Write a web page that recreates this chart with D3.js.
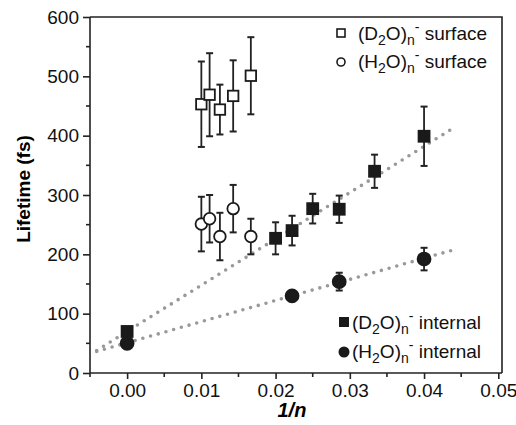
<!DOCTYPE html>
<html lang="en">
<head>
<meta charset="utf-8">
<title>lifetime vs 1/n</title>
<script src="https://d3js.org/d3.v7.min.js"></script>
<style>
  body{margin:0;background:#fff;font-family:"Liberation Sans",Arial,sans-serif;}
  .axis text{font-size:19px;fill:#111;}
  .axis path,.axis line{stroke:#222;stroke-width:1.6;}
</style>
</head>
<body>
<div id="chart"></div>
<script>
// data (x = 1/n, y = lifetime in fs, e = error bar half-length)
var d2oSurfX = [1/100, 1/90, 1/80, 1/70, 1/60]
var d2oSurfY = [453, 469, 444, 467, 501]
var d2oSurfE = [72, 70, 42, 60, 65]

var h2oSurfX = [1/100, 1/90, 1/80, 1/70, 1/60]
var h2oSurfY = [251, 260, 230, 277, 230]
var h2oSurfE = [46, 40, 40, 40, 30]

var d2oIntX = [0, 1/50, 1/45, 1/40, 1/35, 1/30, 1/25]
var d2oIntY = [70, 227, 240, 277, 276, 340, 399]
var d2oIntE = [0, 27, 25, 25, 23, 28, 50]

var h2oIntX = [0, 1/45, 1/35, 1/25]
var h2oIntY = [50, 130, 154, 192]
var h2oIntE = [0, 8, 15, 19]

// linear fits drawn as grey dotted lines: [x0, x1], intercept, slope
var fitD2O = {x: [-0.0041, 0.0437], a: 70, b: 7800}
var fitH2O = {x: [-0.0041, 0.0441], a: 51, b: 3560}

var xTicks = [0, 0.01, 0.02, 0.03, 0.04, 0.05]
var yTicks = [0, 100, 200, 300, 400, 500, 600]

var w = 516, h = 425
var m = {left: 90, top: 17, right: 14, bottom: 52}

var xScale = d3.scaleLinear().domain([-0.005, 0.0505]).range([m.left, w - m.right])
var yScale = d3.scaleLinear().domain([0, 600]).range([h - m.bottom, m.top])

var svg = d3.select("#chart").append("svg").attr("width", w).attr("height", h)

function zip(xs, ys, es){
    return xs.map(function(x, i){ return {x: x, y: ys[i], e: es[i]} })
}

// fit lines
;[fitD2O, fitH2O].forEach(function(f){
    svg.append("line")
        .attr("x1", xScale(f.x[0])).attr("y1", yScale(f.a + f.b * f.x[0]))
        .attr("x2", xScale(f.x[1])).attr("y2", yScale(f.a + f.b * f.x[1]))
        .attr("stroke", "#999").attr("stroke-width", 3.6)
        .attr("stroke-linecap", "round").attr("stroke-dasharray", "0 8")
})

// axes
var yAxis = d3.axisLeft(yScale).tickValues(yTicks).tickSize(7).tickPadding(4)
var gy = svg.append("g").attr("class", "axis").attr("transform", "translate(" + m.left + ",0)").call(yAxis)
gy.select(".domain").attr("d", "M0," + yScale(0) + "V" + yScale(600))
gy.selectAll(".minor").data(d3.range(50, 600, 100)).enter().append("line")
    .attr("class", "minor").attr("x1", -4).attr("x2", 0)
    .attr("y1", function(d){ return yScale(d) }).attr("y2", function(d){ return yScale(d) })

var xAxis = d3.axisBottom(xScale).tickValues(xTicks).tickFormat(d3.format(".2f")).tickSize(6).tickPadding(5)
var gx = svg.append("g").attr("class", "axis").attr("transform", "translate(0," + yScale(0) + ")").call(xAxis)
gx.select(".domain").attr("d", "M" + xScale(-0.005) + ",0H" + xScale(0.0505))
gx.selectAll(".minor").data(d3.range(-0.005, 0.05, 0.01)).enter().append("line")
    .attr("class", "minor").attr("y1", 0).attr("y2", 4)
    .attr("x1", function(d){ return xScale(d) }).attr("x2", function(d){ return xScale(d) })

// frame top + right
svg.append("path")
    .attr("d", "M" + xScale(-0.005) + "," + yScale(600) + "H" + xScale(0.0505) + "V" + yScale(0))
    .attr("fill", "none").attr("stroke", "#222").attr("stroke-width", 1.6)

// axis titles
svg.append("text").attr("x", xScale(0.0222)).attr("y", 417)
    .attr("text-anchor", "middle").style("font-size", "20px").style("font-weight", "bold").style("font-style", "italic")
    .text("1/n")
svg.append("text").attr("transform", "translate(30,189) rotate(-90)")
    .attr("text-anchor", "middle").style("font-size", "19px").style("font-weight", "bold")
    .text("Lifetime (fs)")

// error bars
function errorBars(data){
    var g = svg.append("g")
    var f = data.filter(function(d){ return d.e > 0 })
    g.selectAll(".v").data(f).enter().append("line")
        .attr("x1", function(d){ return xScale(d.x) }).attr("x2", function(d){ return xScale(d.x) })
        .attr("y1", function(d){ return yScale(d.y - d.e) }).attr("y2", function(d){ return yScale(d.y + d.e) })
        .attr("stroke", "#222").attr("stroke-width", 1.8)
    ;["-", "+"].forEach(function(s){
        g.selectAll(".c" + (s == "+" ? "p" : "m")).data(f).enter().append("line")
            .attr("x1", function(d){ return xScale(d.x) - 3.5 }).attr("x2", function(d){ return xScale(d.x) + 3.5 })
            .attr("y1", function(d){ return yScale(s == "+" ? d.y + d.e : d.y - d.e) })
            .attr("y2", function(d){ return yScale(s == "+" ? d.y + d.e : d.y - d.e) })
            .attr("stroke", "#222").attr("stroke-width", 2)
    })
}

function squares(data, filled, size){
    svg.append("g").selectAll("rect").data(data).enter().append("rect")
        .attr("x", function(d){ return xScale(d.x) - size / 2 })
        .attr("y", function(d){ return yScale(d.y) - size / 2 })
        .attr("width", size).attr("height", size)
        .attr("fill", filled ? "#1a1a1a" : "#fff").attr("stroke", "#1a1a1a").attr("stroke-width", 1.8)
}
function circles(data, filled, r){
    svg.append("g").selectAll("circle").data(data).enter().append("circle")
        .attr("cx", function(d){ return xScale(d.x) }).attr("cy", function(d){ return yScale(d.y) })
        .attr("r", r)
        .attr("fill", filled ? "#1a1a1a" : "#fff").attr("stroke", "#1a1a1a").attr("stroke-width", 1.8)
}

var s1 = zip(d2oSurfX, d2oSurfY, d2oSurfE)
var s2 = zip(h2oSurfX, h2oSurfY, h2oSurfE)
var s3 = zip(d2oIntX, d2oIntY, d2oIntE)
var s4 = zip(h2oIntX, h2oIntY, h2oIntE)

errorBars(s1); errorBars(s2); errorBars(s3); errorBars(s4)
squares(s1, false, 10.5)
circles(s2, false, 5.8)
squares(s3, true, 11)
circles(s4, true, 6.5)

// legends
function legendLabel(x, y, sym, tail){
    var t = svg.append("text").attr("x", x).attr("y", y).style("font-size", "19px").attr("fill", "#111")
    t.append("tspan").text("(" + sym)
    t.append("tspan").attr("dy", 5).style("font-size", "14px").text("2")
    t.append("tspan").attr("dy", -5).text("O)")
    t.append("tspan").attr("dy", 5).style("font-size", "14px").text("n")
    t.append("tspan").attr("dy", -13).style("font-size", "14px").text("-")
    t.append("tspan").attr("dy", 8).text(" " + tail)
}
svg.append("rect").attr("x", 337).attr("y", 29).attr("width", 8).attr("height", 8)
    .attr("fill", "#fff").attr("stroke", "#1a1a1a").attr("stroke-width", 1.6)
legendLabel(358, 40, "D", "surface")
svg.append("circle").attr("cx", 341).attr("cy", 62).attr("r", 4)
    .attr("fill", "#fff").attr("stroke", "#1a1a1a").attr("stroke-width", 1.6)
legendLabel(358, 68, "H", "surface")

svg.append("rect").attr("x", 339).attr("y", 317).attr("width", 10).attr("height", 10).attr("fill", "#1a1a1a")
legendLabel(352, 329, "D", "internal")
svg.append("circle").attr("cx", 344).attr("cy", 352).attr("r", 5.5).attr("fill", "#1a1a1a")
legendLabel(352, 358, "H", "internal")
</script>
</body>
</html>
